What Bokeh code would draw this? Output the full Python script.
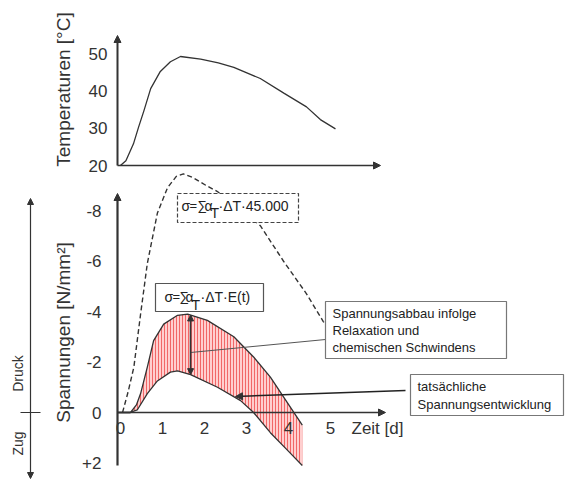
import numpy as np
from bokeh.plotting import figure
from bokeh.models import Range1d, Arrow, NormalHead
from bokeh.embed import file_html
from bokeh.resources import INLINE
from bokeh.core.properties import value

# ---------------- data ----------------
temp_t = [0.07, 0.2, 0.38, 0.5, 0.63, 0.79, 1.02, 1.26, 1.5, 1.98, 2.4, 2.77, 3.4, 3.96, 4.5, 4.83, 5.19]
temp_T = [20.0, 21.3, 25.8, 30.2, 34.7, 40.6, 45.2, 47.8, 49.2, 48.5, 47.5, 46.3, 43.3, 39.4, 35.7, 32.3, 29.8]

dash_t = [0.12, 0.25, 0.39, 0.55, 0.71, 0.95, 1.19, 1.4, 1.57, 1.8, 2.1, 2.38, 2.7, 3.05, 3.4, 3.95, 4.5, 4.9, 5.0]
dash_v = [0.0, -0.8, -1.8, -3.9, -5.9, -7.9, -8.9, -9.35, -9.45, -9.3, -9.0, -8.75, -8.3, -7.9, -7.4, -6.0, -4.7, -3.6, -3.4]

upper_t = [0.0, 0.31, 0.45, 0.55, 0.71, 0.86, 1.1, 1.43, 1.67, 2.14, 2.77, 3.24, 3.64, 3.96, 4.4]
upper_v = [0.0, 0.0, -0.3, -0.75, -1.8, -2.85, -3.5, -3.85, -3.9, -3.65, -3.0, -2.2, -1.4, -0.6, 0.5]

lower_t = [0.0, 0.3, 0.47, 0.71, 0.95, 1.26, 1.43, 1.74, 2.38, 2.93, 3.24, 3.64, 4.05, 4.4]
lower_v = [0.0, 0.0, -0.1, -0.75, -1.25, -1.6, -1.65, -1.5, -1.0, -0.47, 0.0, 0.8, 1.5, 2.1]

temp_ticks = [20, 30, 40, 50]
temp_tick_labels = ["20", "30", "40", "50"]
stress_ticks = [-8, -6, -4, -2, 0, 2]
stress_tick_labels = ["-8", "-6", "-4", "-2", "0", "+2"]
time_ticks = [0, 1, 2, 3, 4, 5]
time_tick_labels = ["0", "1", "2", "3", "4", "5"]
arrow_day = 1.74

# ---------------- layout (pixel -> data helpers) ----------------
W, H = 565, 483
X0, XS = 117.0, 42.0     # pixel of t=0, px per day
Y0, YS = 412.0, 25.25    # pixel of stress 0, px per N/mm2 (positive downward)
T0, TS = 165.0, 3.733    # pixel of 20 degC, px per degC


def px(x):
    return (x - X0) / XS


def sy(y):
    return (y - Y0) / YS


def ty(y):
    return 20 + (T0 - y) / TS


FONT = value("Liberation Sans")
INK = "#333333"

p = figure(width=W, height=H,
           x_range=Range1d(px(0), px(W)),
           y_range=Range1d(sy(H), sy(0)),
           output_backend="svg", toolbar_location=None,
           x_axis_location=None, y_axis_location=None,
           min_border=0, outline_line_color=None)
p.extra_y_ranges = {"temp": Range1d(ty(H), ty(0))}
p.grid.visible = False
p.background_fill_color = "white"
p.border_fill_color = "white"

# ---------- stress region fill (hatched) ----------
p.patch(upper_t + lower_t[::-1], upper_v + lower_v[::-1],
        fill_color="#ffcfcf", line_color=None,
        hatch_pattern="vertical_line", hatch_color="#ee5555",
        hatch_scale=3, hatch_weight=1, hatch_alpha=0.85)

# ---------- curves ----------
p.line(temp_t, temp_T, y_range_name="temp", line_color=INK, line_width=1.3)
p.line(dash_t, dash_v, line_color=INK, line_width=1.4, line_dash="5 3")
p.line(upper_t, upper_v, line_color=INK, line_width=1.3)
p.line(lower_t, lower_v, line_color=INK, line_width=1.3)

# ---------- axes ----------
def head(s=7):
    return NormalHead(size=s, fill_color=INK, line_color=INK, line_width=1)

# temperature panel
p.add_layout(Arrow(x_start=0, y_start=20, x_end=0, y_end=ty(35), y_range_name="temp",
                   line_color=INK, line_width=2, end=head()))
p.add_layout(Arrow(x_start=0, y_start=20, x_end=px(380), y_end=20, y_range_name="temp",
                   line_color=INK, line_width=1.5, end=head()))
# stress panel
p.add_layout(Arrow(x_start=0, y_start=sy(465), x_end=0, y_end=sy(193),
                   line_color=INK, line_width=2.2, end=head()))
p.add_layout(Arrow(x_start=0, y_start=0, x_end=px(385), y_end=0,
                   line_color=INK, line_width=1.5, end=head()))

# tick labels
p.text(x=[px(107)] * len(temp_ticks), y=temp_ticks, text=temp_tick_labels, y_range_name="temp",
       text_font=FONT, text_font_size="17px", text_align="right", text_baseline="middle",
       text_color=INK)
p.text(x=[px(101)] * len(stress_ticks), y=stress_ticks, text=stress_tick_labels,
       text_font=FONT, text_font_size="17px", text_align="right", text_baseline="middle",
       text_color=INK)
p.text(x=time_ticks, y=[sy(427)] * len(time_ticks), text=time_tick_labels, x_offset=3,
       text_font=FONT, text_font_size="17px", text_align="center", text_baseline="middle",
       text_color=INK)
p.text(x=[px(351)], y=[sy(428)], text=["Zeit [d]"],
       text_font=FONT, text_font_size="17px", text_align="left", text_baseline="middle",
       text_color=INK)

# axis titles
p.text(x=[px(63)], y=[ty(89)], text=["Temperaturen [°C]"], y_range_name="temp", angle=np.pi / 2,
       text_font=FONT, text_font_size="19px", text_align="center", text_baseline="middle",
       text_color=INK)
p.text(x=[px(63)], y=[sy(332)], text=["Spannungen [N/mm²]"], angle=np.pi / 2,
       text_font=FONT, text_font_size="19px", text_align="center", text_baseline="middle",
       text_color=INK)

# Druck / Zug indicator
p.add_layout(Arrow(x_start=px(30), y_start=sy(478), x_end=px(30), y_end=sy(198),
                   line_color=INK, line_width=1.2, start=head(6), end=head(6)))
p.segment(x0=[px(20)], y0=[0], x1=[px(40)], y1=[0], line_color=INK, line_width=1.2)
p.text(x=[px(17), px(17)], y=[sy(373), sy(443)], text=["Druck", "Zug"], angle=np.pi / 2,
       text_font=FONT, text_font_size="14px", text_align="center", text_baseline="middle",
       text_color=INK)

# ---------- annotations ----------
up_at = float(np.interp(arrow_day, upper_t, upper_v))
lo_at = float(np.interp(arrow_day, lower_t, lower_v))
p.add_layout(Arrow(x_start=arrow_day, y_start=lo_at, x_end=arrow_day, y_end=up_at,
                   line_color=INK, line_width=1.6, start=head(6), end=head(6)))
# connector from arrow to explanation box
p.segment(x0=[arrow_day], y0=[sy(352)], x1=[px(325)], y1=[sy(339)], line_color="#555555", line_width=1)
# arrow from second box to lower curve
p.add_layout(Arrow(x_start=px(405), y_start=sy(390), x_end=px(235), y_end=sy(396),
                   line_color="#222222", line_width=1.5, end=head(7)))

# boxes
p.quad(left=[px(177)], right=[px(298)], top=[sy(193)], bottom=[sy(222)],
       fill_color="white", line_color="#444444", line_width=1.2, line_dash="4 2")
p.quad(left=[px(155)], right=[px(263)], top=[sy(283)], bottom=[sy(311)],
       fill_color="white", line_color="#555555", line_width=1.2)
p.quad(left=[px(325)], right=[px(506)], top=[sy(301)], bottom=[sy(358)],
       fill_color="white", line_color="#777777", line_width=1.2)
p.quad(left=[px(410)], right=[px(563)], top=[sy(374)], bottom=[sy(415)],
       fill_color="white", line_color="#777777", line_width=1.2)

# formula texts (pieces)
def formula(pieces, ymid, ysub):
    for txt, xpix, sub, size in pieces:
        p.text(x=[px(xpix)], y=[sy(ysub if sub else ymid)], text=[txt],
               text_font=FONT, text_font_size=size,
               text_align="left", text_baseline="middle", text_color="#222222")

formula([("σ", 181, False, "14px"), ("=", 189, False, "13px"), ("∑", 197, False, "13px"),
         ("α", 204, False, "14px"), ("T", 210, True, "14px"), ("·ΔT·45.000", 218, False, "14px")],
        205, 212)
formula([("σ", 164, False, "14px"), ("=", 172, False, "13px"), ("∑", 179, False, "13px"),
         ("α", 185, False, "14px"), ("T", 191, True, "14px"), ("·ΔT·E(t)", 200, False, "14px")],
        296, 304)

p.text(x=[px(332)] * 3, y=[sy(313), sy(330), sy(347)],
       text=["Spannungsabbau infolge", "Relaxation und", "chemischen Schwindens"],
       text_font=FONT, text_font_size="13px", text_align="left", text_baseline="middle",
       text_color="#222222")
p.text(x=[px(417)] * 2, y=[sy(386), sy(404)],
       text=["tatsächliche", "Spannungsentwicklung"],
       text_font=FONT, text_font_size="13px", text_align="left", text_baseline="middle",
       text_color="#222222")

open("out.html", "w").write(file_html(p, INLINE))
